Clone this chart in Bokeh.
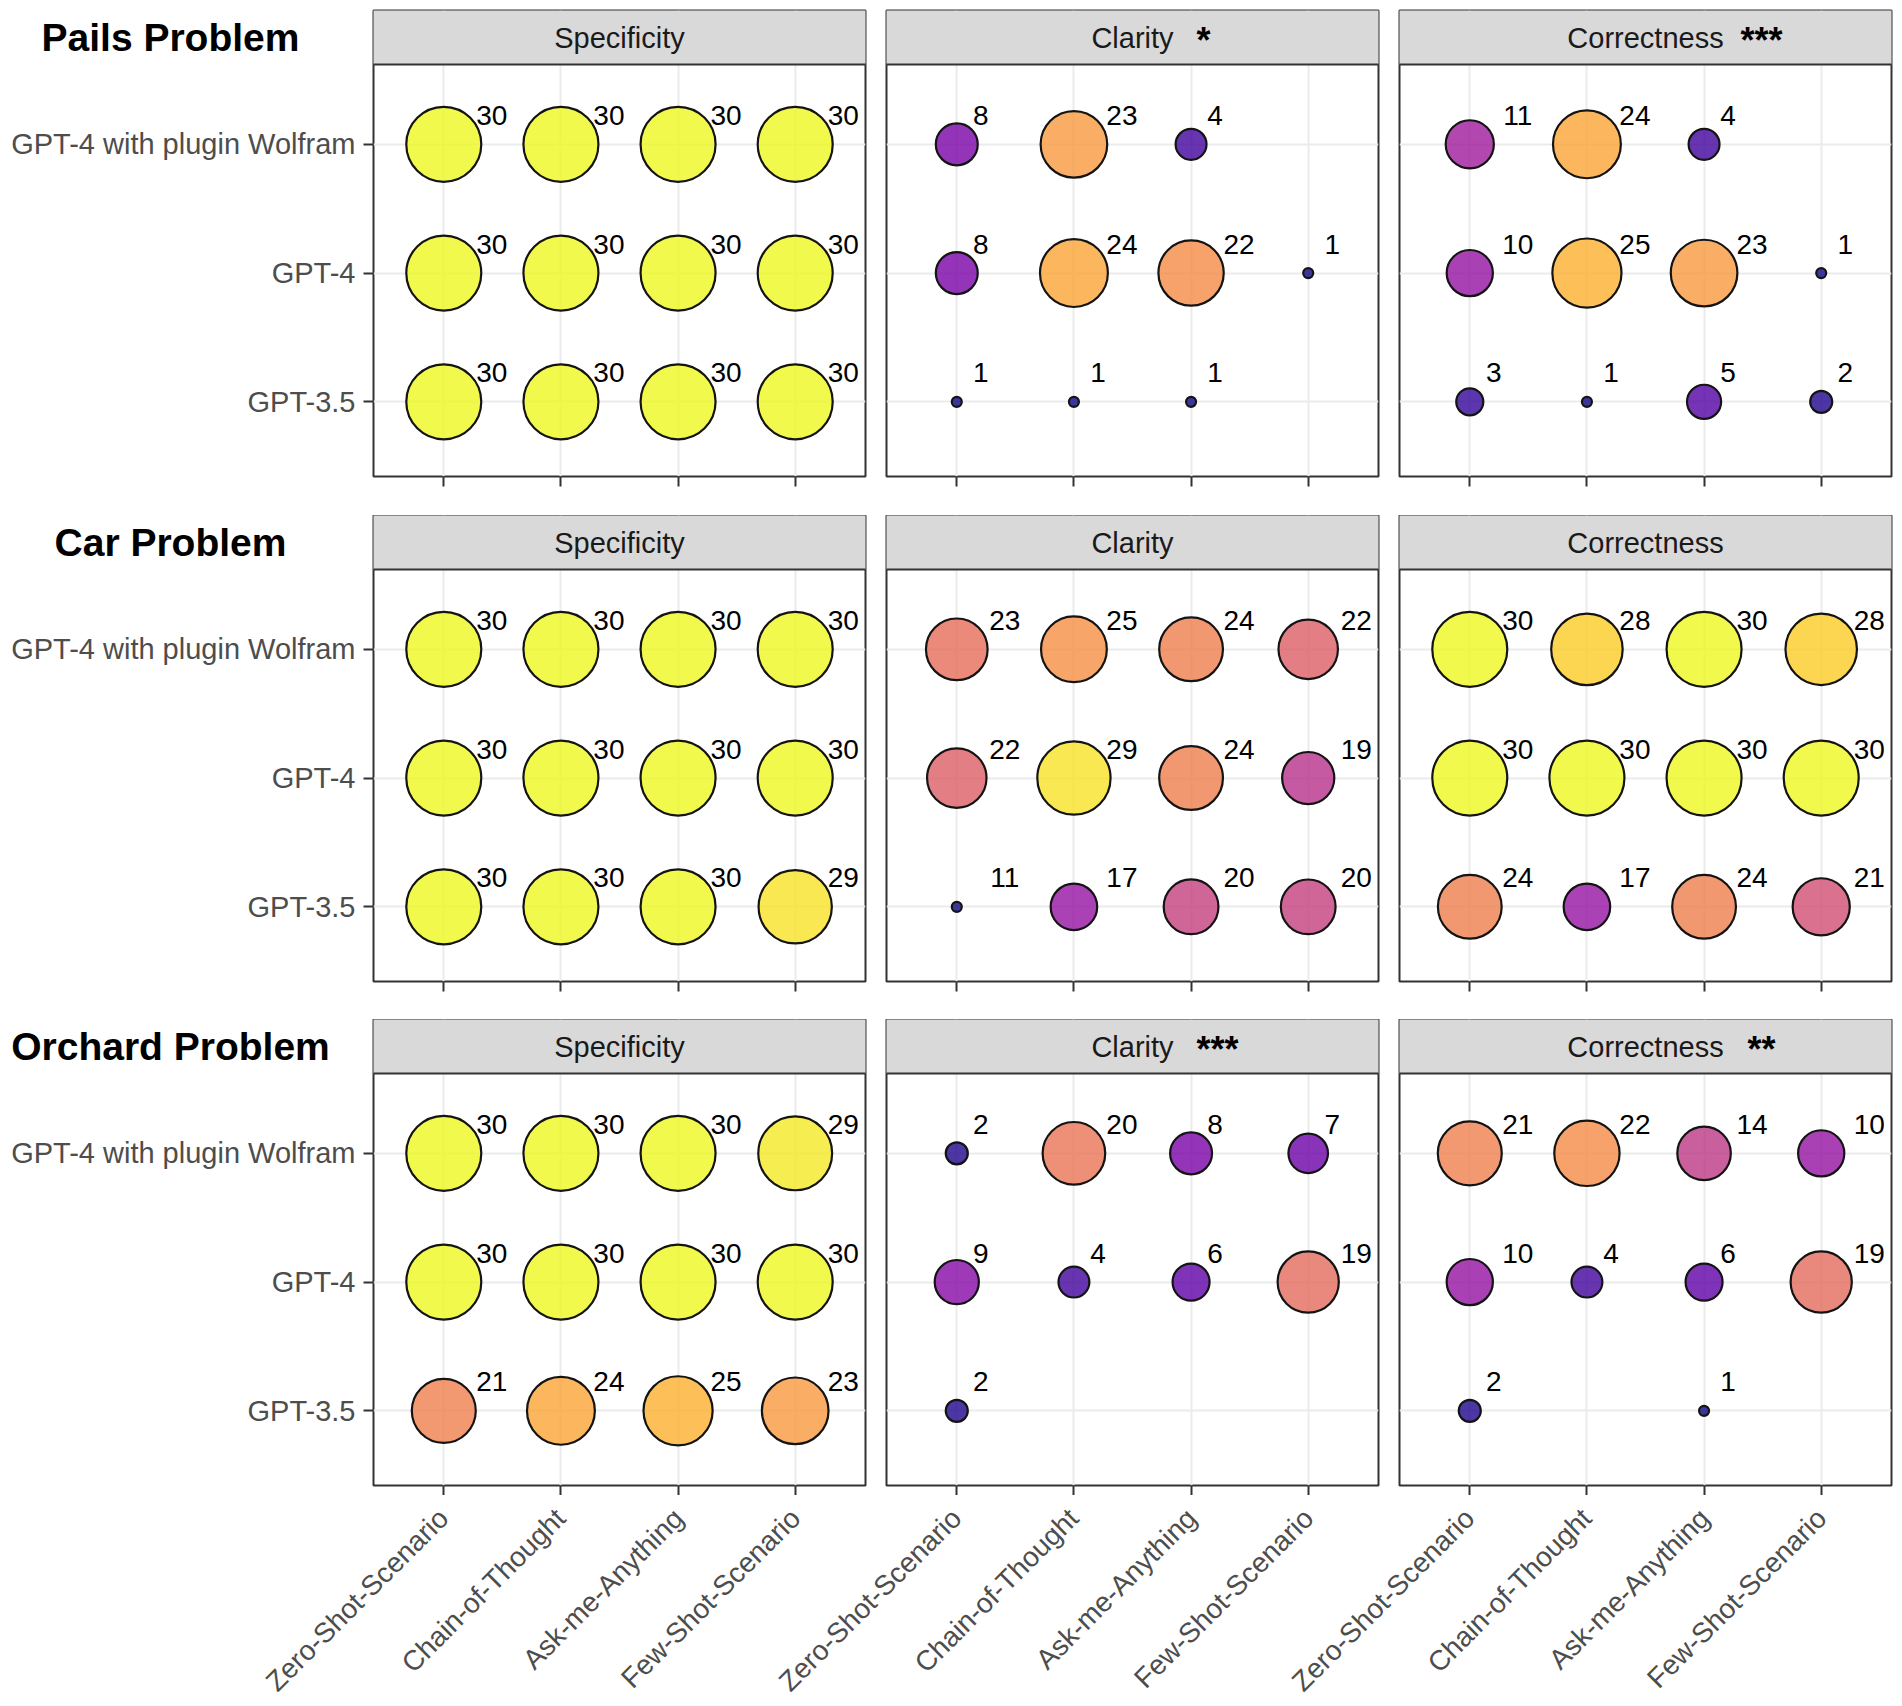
import math
from bokeh.plotting import figure
from bokeh.layouts import gridplot, column
from bokeh.models import (ColumnDataSource, FactorRange, Range1d, FixedTicker, Label,
                          CustomJSTickFormatter)
from bokeh.transform import linear_cmap
from bokeh.palettes import Plasma256
from bokeh.core.properties import value
from bokeh.embed import file_html
from bokeh.resources import INLINE

# ---------------- data ----------------
problems = ["Pails Problem", "Car Problem", "Orchard Problem"]
metrics = ["Specificity", "Clarity", "Correctness"]
prompts = ["Zero-Shot-Scenario", "Chain-of-Thought", "Ask-me-Anything", "Few-Shot-Scenario"]
models = ["GPT-3.5", "GPT-4", "GPT-4 with plugin Wolfram"]   # bottom -> top

# each table: one row per model (same order as `models`), one column per prompt; None = no bubble
pails_specificity = [[30, 30, 30, 30], [30, 30, 30, 30], [30, 30, 30, 30]]
pails_clarity = [[1, 1, 1, None], [8, 24, 22, 1], [8, 23, 4, None]]
pails_correctness = [[3, 1, 5, 2], [10, 25, 23, 1], [11, 24, 4, None]]

car_specificity = [[30, 30, 30, 29], [30, 30, 30, 30], [30, 30, 30, 30]]
car_clarity = [[11, 17, 20, 20], [22, 29, 24, 19], [23, 25, 24, 22]]
car_correctness = [[24, 17, 24, 21], [30, 30, 30, 30], [30, 28, 30, 28]]

orchard_specificity = [[21, 24, 25, 23], [30, 30, 30, 30], [30, 30, 30, 29]]
orchard_clarity = [[2, None, None, None], [9, 4, 6, 19], [2, 20, 8, 7]]
orchard_correctness = [[2, None, 1, None], [10, 4, 6, 19], [21, 22, 14, 10]]

pails_stars = ["", "*", "***"]
car_stars = ["", "", ""]
orchard_stars = ["", "***", "**"]

tables = [
    [pails_specificity, pails_clarity, pails_correctness],
    [car_specificity, car_clarity, car_correctness],
    [orchard_specificity, orchard_clarity, orchard_correctness],
]
stars = [pails_stars, car_stars, orchard_stars]

# ---------------- style ----------------
FONT = "Liberation Sans"
FRAME_W, FRAME_H = 492, 466
STRIP_H = 54
X_PAD = 0.1                      # extra synthetic padding -> 0.6 category units each side
Y_LO, Y_HI = 0.42, 3.62
Y_TOP = Y_HI + (Y_HI - Y_LO) * STRIP_H / (FRAME_H - STRIP_H)
STRIP_MID = (Y_HI + Y_TOP) / 2
D_MIN, D_MAX = 12, 77
G_W = 363                        # gutter with the row titles and model names
border_left = [10, 17, 17]
border_right = [4, 4, 2]
border_top = [10, 0, 0]
border_bottom = [39, 38, 10]
star_align = {"Clarity": ("left", 64), "Correctness": ("center", 116)}
blank = CustomJSTickFormatter(code="return ''")


def style_axis(ax):
    ax.axis_line_color = None
    ax.major_tick_in = 0
    ax.major_tick_out = 10
    ax.major_tick_line_color = "#333333"
    ax.major_tick_line_width = 2
    ax.minor_tick_line_color = None
    ax.formatter = blank
    ax.major_label_standoff = 0
    ax.major_label_text_font_size = "1px"


grid_rows = []
for ri, prob in enumerate(problems):
    allv = [v for tab in tables[ri] for row in tab for v in row if v is not None]
    vmin, vmax = min(allv), max(allv)
    y_range = Range1d(Y_LO, Y_TOP)

    # gutter: row title + model names, placed with the same y scale as the panels
    g = figure(x_range=Range1d(0, G_W), y_range=y_range, frame_width=G_W, frame_height=FRAME_H,
               min_border_left=0, min_border_right=0, min_border_top=border_top[ri],
               min_border_bottom=border_bottom[ri], x_axis_location=None, y_axis_location=None,
               output_backend="svg", toolbar_location=None,
               background_fill_color="white", border_fill_color="white")
    g.outline_line_color = None
    g.grid.visible = False
    g.text(x=[G_W - 8] * len(models), y=[i + 1 for i in range(len(models))], text=models,
           text_align="right", text_baseline="middle", text_font=value(FONT),
           text_font_size="29px", text_color="#4D4D4D")
    g.text(x=[170], y=[STRIP_MID], text=[prob], text_align="center", text_baseline="middle",
           text_font=value(FONT), text_font_size="39px", text_font_style="bold",
           text_color="black")
    row_figs = [g]

    for ci, met in enumerate(metrics):
        tab = tables[ri][ci]
        xs, ys, vs, labs, sizes, xo = [], [], [], [], [], []
        for mi, m in enumerate(models):
            for pi, pr in enumerate(prompts):
                v = tab[mi][pi]
                if v is None:
                    continue
                xs.append(pr)
                ys.append(mi + 1)
                vs.append(v)
                labs.append(str(v))
                t = (v - vmin) / (vmax - vmin)
                sizes.append(D_MIN + (D_MAX - D_MIN) * math.sqrt(t) - 2)
                xo.append(24 * len(str(v)))
        src = ColumnDataSource(dict(x=xs, y=ys, v=vs, label=labs, size=sizes, xo=xo))

        p = figure(
            x_range=FactorRange(factors=prompts, range_padding=X_PAD, range_padding_units="absolute"),
            y_range=y_range,
            frame_width=FRAME_W, frame_height=FRAME_H,
            min_border_left=border_left[ci], min_border_right=border_right[ci],
            min_border_top=border_top[ri], min_border_bottom=border_bottom[ri],
            y_axis_location="left" if ci == 0 else None,
            output_backend="svg", toolbar_location=None,
            background_fill_color="white", border_fill_color="white",
        )
        p.outline_line_color = "#333333"
        p.outline_line_width = 2

        ticker = FixedTicker(ticks=[1, 2, 3])
        p.ygrid.ticker = ticker
        for gr in (p.xgrid, p.ygrid):
            gr.grid_line_color = "#EBEBEB"
            gr.grid_line_width = 2
        style_axis(p.xaxis[0])
        if ci == 0:
            p.yaxis.ticker = ticker
            style_axis(p.yaxis[0])

        # facet strip
        p.quad(left=-2, right=6, bottom=Y_HI, top=Y_TOP + 1, fill_color="#D9D9D9",
               line_color="#333333", line_width=2)
        p.add_layout(Label(x=2.0, y=STRIP_MID, text=met, text_align="center",
                           text_baseline="middle", text_font=FONT, text_font_size="29px",
                           text_color="#1A1A1A"))
        s = stars[ri][ci]
        if s:
            al, off = star_align[met]
            p.add_layout(Label(x=2.0, y=STRIP_MID, x_offset=off, y_offset=-3,
                               text=s, text_align=al, text_baseline="middle",
                               text_font=FONT, text_font_size="36px", text_font_style="bold",
                               text_color="black"))

        cmap = linear_cmap("v", Plasma256, low=vmin, high=vmax)
        p.scatter(x="x", y="y", size="size", source=src, fill_color=cmap, fill_alpha=0.8,
                  line_color="#141414", line_width=2.2)
        p.text(x="x", y="y", text="label", source=src, x_offset="xo", y_offset=-29,
               text_align="center", text_baseline="middle", text_font=value(FONT),
               text_font_size="28px", text_color="black")
        row_figs.append(p)
    grid_rows.append(row_figs)

grid = gridplot(grid_rows, toolbar_location=None)

# shared axis carrying the prompt names under the bottom row of panels
widths = [border_left[c] + FRAME_W + border_right[c] for c in range(3)]
total_w = G_W + sum(widths)
unit = FRAME_W / (len(prompts) - 1 + 2 * (0.5 + X_PAD))
tick_pos, tick_lab = [], []
acc = G_W
for c in range(3):
    fl = acc + border_left[c]
    for i, pr in enumerate(prompts):
        tick_pos.append(round(fl + (0.5 + X_PAD + i) * unit))
        tick_lab.append(pr)
    acc += widths[c]

lab = figure(width=total_w, frame_height=1, x_range=Range1d(0, total_w), y_range=Range1d(0, 1),
             min_border_left=0, min_border_right=0, min_border_top=0, min_border_bottom=0,
             y_axis_location=None, output_backend="svg", toolbar_location=None,
             border_fill_color="white", background_fill_color="white")
lab.outline_line_color = None
lab.grid.visible = False
lab.xaxis.ticker = FixedTicker(ticks=tick_pos)
lab.xaxis.major_label_overrides = {t: l for t, l in zip(tick_pos, tick_lab)}
lab.xaxis.major_label_orientation = math.pi / 4
lab.xaxis.major_label_standoff = 17
lab.xaxis.major_tick_out = 0
lab.xaxis.major_tick_in = 0
lab.xaxis.minor_tick_line_color = None
lab.xaxis.axis_line_color = None
lab.xaxis.major_label_text_font = FONT
lab.xaxis.major_label_text_font_size = "28px"
lab.xaxis.major_label_text_color = "#4D4D4D"

page = column(grid, lab, spacing=0)
open("out.html", "w").write(file_html(page, INLINE))
